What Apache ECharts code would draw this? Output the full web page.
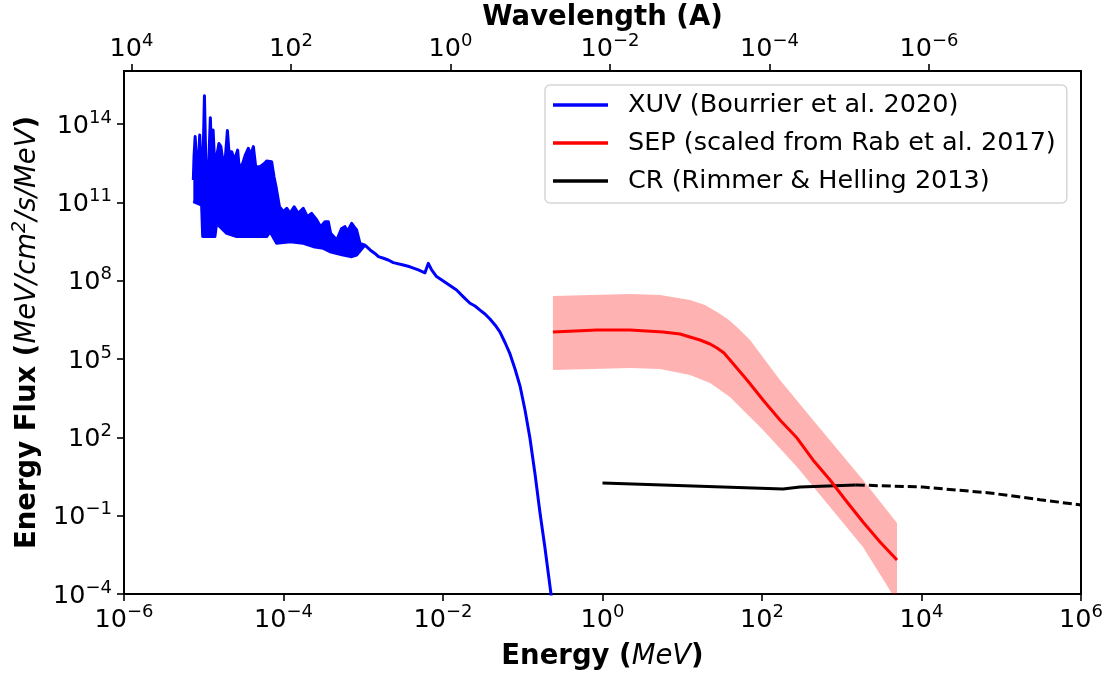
<!DOCTYPE html>
<html>
<head>
<meta charset="utf-8">
<script src="https://cdn.jsdelivr.net/npm/echarts@6/dist/echarts.min.js"></script>
<style>html,body{margin:0;padding:0;background:#fff}#c{width:1116px;height:675px}</style>
</head>
<body>
<div id="c"></div>
<script>
// ---------- data (energy in MeV, energy flux in MeV/cm^2/s/MeV) ----------
// XUV spectrum, upper outline (spiky line + cut-off tail)
const xuvHiE = [7.4e-6, 7.55e-6, 7.8e-6, 8.1e-6, 8.6e-6, 8.9e-6, 9.2e-6, 9.8e-6, 1.02e-5, 1.06e-5,
  1.15e-5, 1.21e-5, 1.26e-5, 1.31e-5, 1.37e-5, 1.45e-5, 1.55e-5, 1.64e-5, 1.73e-5, 1.87e-5,
  1.98e-5, 2.07e-5, 2.24e-5, 2.42e-5, 2.66e-5, 2.79e-5, 3.08e-5, 3.32e-5, 3.62e-5, 3.87e-5,
  4.19e-5, 4.48e-5, 5.07e-5, 5.75e-5, 6.15e-5, 7.1e-5, 7.6e-5, 8.05e-5, 8.9e-5, 9.95e-5,
  1.10e-4, 1.21e-4, 1.36e-4, 1.53e-4, 1.77e-4, 1.99e-4, 2.25e-4, 2.61e-4, 2.92e-4, 3.31e-4,
  3.65e-4, 3.9e-4, 4.65e-4, 5.36e-4, 5.9e-4, 6.3e-4, 7.16e-4, 7.66e-4, 8.26e-4, 9.1e-4,
  1.05e-3, 1.22e-3, 1.40e-3, 1.55e-3, 1.79e-3, 2.06e-3, 2.38e-3, 3.18e-3, 3.85e-3, 4.91e-3,
  5.94e-3, 6.55e-3, 7.2e-3, 8.3e-3, 1.11e-2, 1.48e-2, 1.80e-2, 2.18e-2, 2.52e-2, 2.91e-2,
  3.36e-2, 3.88e-2, 4.49e-2, 5.19e-2, 5.99e-2, 6.92e-2, 8.0e-2, 9.25e-2, 0.1067, 0.123,
  0.1425, 0.164, 0.190, 0.226, 0.247];
const xuvHiF = [7.2e11, 5.6e12, 3.3e13, 4.2e12, 4.2e12, 3.8e13, 4.2e12, 4.2e12, 1.2e15, 4.2e12,
  2.3e12, 1.75e14, 4.2e12, 5.9e13, 3.1e12, 5.6e12, 1.8e13, 1.36e13, 4.2e12, 5.6e12,
  5.6e13, 8.7e12, 8.7e12, 4.2e12, 1.0e13, 2.0e12, 3.1e12, 6.5e12, 1.17e13, 6.5e12,
  1.36e13, 2.3e12, 2.3e12, 3.1e12, 3.8e12, 3.6e12, 9.6e11, 4.0e11, 6.8e10, 4.4e10,
  5.9e10, 3.8e10, 6.8e10, 3.8e10, 5.9e10, 2.8e10, 3.8e10, 2.1e10, 1.17e10, 1.8e10,
  1.8e10, 6.5e9, 3.6e9, 1.0e10, 1.17e10, 7.5e9, 1.57e10, 1.17e10, 8.7e9, 2.7e9,
  2.3e9, 1.5e9, 1.1e9, 8.3e8, 7.2e8, 6.2e8, 4.9e8, 4.0e8, 3.4e8, 2.6e8,
  2.0e8, 4.6e8, 2.6e8, 1.43e8, 7.9e7, 4.4e7, 2.4e7, 1.36e7, 1.07e7, 7.5e6,
  5.3e6, 3.4e6, 2.01e6, 1.08e6, 4.29e5, 1.56e5, 4.14e4, 9.2e3, 1.11e3, 94,
  3.94, 0.138, 5.8e-3, 1e-4, 1e-5];
// XUV spectrum, lower outline of the dense line forest
const xuvLoE = [7.4e-6, 9.4e-6, 9.7e-6, 1.38e-5, 1.45e-5, 1.94e-5, 2.59e-5, 6.15e-5, 6.8e-5, 8.2e-5,
  1.21e-4, 1.77e-4, 2.37e-4, 3.16e-4, 3.83e-4, 5.6e-4, 7.16e-4, 8.26e-4, 1.05e-3];
const xuvLoF = [1.06e11, 7.9e10, 4.9e9, 4.9e9, 1.57e10, 6.5e9, 4.9e9, 4.9e9, 7.5e9, 2.7e9,
  3.1e9, 2.7e9, 2.0e9, 1.73e9, 1.29e9, 9.6e8, 8.3e8, 9.6e8, 2.3e9];

// SEP (scaled from Rab et al. 2017): central curve and shaded range
const sepE = [0.239, 0.452, 0.853, 2.21, 5.74, 9.38, 12.5, 16.7, 22.3, 27.3, 33.4, 39.7, 64.9, 103, 168, 275, 436, 713, 1164, 1846, 3020, 4930];
const sepF = [1.08e6, 1.18e6, 1.29e6, 1.29e6, 1.08e6, 9.1e5, 6.97e5, 5.35e5, 3.76e5, 2.64e5, 1.70e5, 9.2e4, 1.57e4, 2.69e3, 461, 94, 13.6, 2.32, 0.334, 0.0572, 9.8e-3, 2.0e-3];
const sepHiE = [0.239, 2.21, 5.26, 12.5, 19.3, 27.3, 37.1, 48.5, 70.8, 168, 436, 1846, 4930];
const sepHiF = [2.59e7, 3.09e7, 2.83e7, 1.82e7, 1.17e7, 6.3e6, 3.4e6, 1.68e6, 5.35e5, 1.57e4, 461, 2.32, 0.0524];
const sepLoE = [0.239, 2.21, 5.26, 12.5, 22.3, 39.7, 61.2, 103, 275, 713, 1846, 4300, 4930];
const sepLoF = [3.79e4, 4.53e4, 4.14e4, 2.44e4, 1.2e4, 3.5e3, 933, 191, 7.3, 0.215, 6.3e-3, 1e-4, 1e-4];

// CR (Rimmer & Helling 2013): solid part and dashed extrapolation
const crE = [1.0, 183, 300, 1500];
const crF = [1.78, 1.05, 1.25, 1.5];
const crExtE = [1500, 1.04e4, 7.2e4, 3.06e5, 1e6];
const crExtF = [1.5, 1.25, 0.74, 0.41, 0.256];

// axis ticks
const fluxTickExps = [-4, -1, 2, 5, 8, 11, 14];
const wavelengthTicks = [1e4, 1e2, 1, 1e-2, 1e-4, 1e-6];   // Angstrom
const HC_MEV_A = 0.0123984;                                 // E[MeV] = HC / lambda[A]

const legendNames = ['XUV (Bourrier et al. 2020)', 'SEP (scaled from Rab et al. 2017)', 'CR (Rimmer & Helling 2013)'];

// ---------- chart ----------
const FONT = 'DejaVu Sans';
const toPts = (E, F) => E.map((e, i) => [Math.log10(e), Math.log10(F[i])]);
const sup = (exp) => '{b|10}{s|' + (exp < 0 ? '\u2212' + (-exp) : String(exp)) + '}';
const tickRich = {
  b: { fontFamily: FONT, fontSize: 25.5, color: '#000', lineHeight: 30, verticalAlign: 'bottom' },
  s: { fontFamily: FONT, fontSize: 18, color: '#000', lineHeight: 16, verticalAlign: 'top' }
};
const nameRich = {
  b: { fontFamily: FONT, fontSize: 27.5, fontWeight: 'bold', color: '#000', lineHeight: 34 },
  i: { fontFamily: FONT, fontSize: 27.5, fontStyle: 'italic', color: '#000', lineHeight: 34 },
  s: { fontFamily: FONT, fontSize: 19, fontStyle: 'italic', color: '#000', lineHeight: 20, verticalAlign: 'top' }
};

function lineSeries(name, E, F, color, z, extra) {
  return Object.assign({
    type: 'line', name, data: toPts(E, F), showSymbol: false, symbol: 'none', z,
    lineStyle: { color, width: 3, join: 'round', cap: 'butt' }, itemStyle: { color }, clip: true
  }, extra || {});
}
function bandSeries(name, hiE, hiF, loE, loF, color, z) {
  const pts = toPts(hiE, hiF).concat(toPts(loE, loF).reverse());
  return {
    type: 'custom', name, coordinateSystem: 'cartesian2d', xAxisIndex: 0, yAxisIndex: 0,
    data: [pts[0]], clip: true, silent: true, z,
    renderItem: (params, api) => ({
      type: 'polygon', shape: { points: pts.map(p => api.coord(p)) }, style: { fill: color }
    })
  };
}

const xuvLastLo = xuvLoE[xuvLoE.length - 1];
const xuvFillE = xuvHiE.filter(e => e <= xuvLastLo);
const xuvFillF = xuvHiF.slice(0, xuvFillE.length);

const chart = echarts.init(document.getElementById('c'), null, { renderer: 'canvas' });
chart.setOption({
  animation: false,
  backgroundColor: '#fff',
  grid: { left: 124, right: 35, top: 71, bottom: 81, show: true, borderColor: '#000', borderWidth: 2,
    backgroundColor: 'transparent', containLabel: false, outerBoundsMode: 'none' },
  graphic: [{
    type: 'text', x: 602.5, y: 18, silent: true,
    style: { text: 'Wavelength (A)', align: 'center', verticalAlign: 'middle',
      font: 'bold 27.5px "DejaVu Sans"', fill: '#000' }
  }],
  legend: {
    data: legendNames, orient: 'vertical', left: 545, top: 85,
    icon: 'rect', itemWidth: 55, itemHeight: 3.5, itemGap: 10,
    padding: [6, 11, 8, 8], borderColor: '#d6d6d6', borderWidth: 1.5, borderRadius: 5,
    backgroundColor: 'rgba(255,255,255,0.8)',
    textStyle: { fontFamily: FONT, fontSize: 25.5, color: '#000', lineHeight: 28, padding: [0, 0, 0, 15] }
  },
  xAxis: [{
    type: 'value', position: 'bottom', min: -6, max: 6, interval: 2,
    name: '{b|Energy (}{i|MeV}{b|)}', nameLocation: 'middle', nameGap: 46, nameMoveOverlap: false,
    nameTextStyle: { rich: nameRich },
    axisLine: { show: true, onZero: false, lineStyle: { color: '#000', width: 2 } },
    axisTick: { show: true, length: 7, lineStyle: { color: '#000', width: 1.6 } },
    axisLabel: { margin: 9, formatter: v => sup(Math.round(v)), rich: tickRich },
    splitLine: { show: false }
  }, {
    type: 'value', position: 'top', min: -6, max: 6,
    axisLine: { show: true, onZero: false, lineStyle: { color: '#000', width: 2 } },
    axisTick: { show: true, length: 7, lineStyle: { color: '#000', width: 1.6 },
      customValues: wavelengthTicks.map(l => Math.log10(HC_MEV_A / l)) },
    axisLabel: { margin: 9, rich: tickRich,
      customValues: wavelengthTicks.map(l => Math.log10(HC_MEV_A / l)),
      formatter: v => sup(Math.round(Math.log10(HC_MEV_A) - v)) },
    splitLine: { show: false }
  }],
  yAxis: [{
    type: 'value', min: -4, max: 16.03,
    name: '{b|Energy Flux (}{i|MeV/cm}{s|2}{i|/s/MeV}{b|)}', nameLocation: 'middle', nameGap: 79, nameMoveOverlap: false,
    nameTextStyle: { rich: nameRich },
    axisLine: { show: true, onZero: false, lineStyle: { color: '#000', width: 2 } },
    axisTick: { show: true, length: 7, lineStyle: { color: '#000', width: 1.6 }, customValues: fluxTickExps },
    axisLabel: { margin: 12, rich: tickRich, customValues: fluxTickExps, formatter: v => sup(Math.round(v)) },
    splitLine: { show: false }
  }],
  series: [
    bandSeries('xuvFill', xuvFillE, xuvFillF, xuvLoE, xuvLoF, '#0000ff', 2),
    lineSeries(legendNames[0], xuvHiE, xuvHiF, '#0000ff', 3),
    lineSeries('xuvLower', xuvLoE, xuvLoF, '#0000ff', 3),
    bandSeries('sepRange', sepHiE, sepHiF, sepLoE, sepLoF, 'rgba(255,0,0,0.3)', 4),
    lineSeries(legendNames[2], crE, crF, '#000000', 5),
    lineSeries('crExtrapolated', crExtE, crExtF, '#000000', 5, {
      lineStyle: { color: '#000', width: 3, type: [9, 4], cap: 'butt' } }),
    lineSeries(legendNames[1], sepE, sepF, '#ff0000', 6)
  ]
});
</script>
</body>
</html>
